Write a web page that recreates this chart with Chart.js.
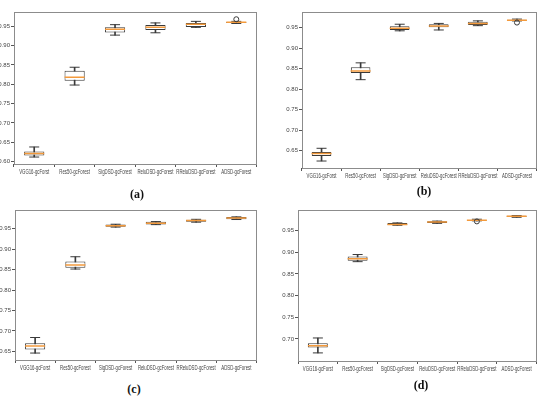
<!DOCTYPE html>
<html>
<head>
<meta charset="utf-8">
<script src="https://cdn.jsdelivr.net/npm/chart.js@4.4.1/dist/chart.umd.min.js"></script>
<style>
  body { margin: 0; background: #fff; width: 550px; height: 397px; position: relative; overflow: hidden; }
  canvas { position: absolute; }
  .lbl { position: absolute; font: bold 12px 'Liberation Serif', serif; color: #111; transform: translate(-50%, -50%); }
</style>
</head>
<body>
<canvas id="ca" width="268" height="182" style="left:0;top:0"></canvas>
<canvas id="cb" width="272" height="185" style="left:276px;top:0"></canvas>
<canvas id="cc" width="268" height="180" style="left:0;top:198px"></canvas>
<canvas id="cd" width="272" height="180" style="left:276px;top:198px"></canvas>
<div class="lbl" style="left:137px;top:194px">(a)</div>
<div class="lbl" style="left:424px;top:191px">(b)</div>
<div class="lbl" style="left:134px;top:389px">(c)</div>
<div class="lbl" style="left:421px;top:385px">(d)</div>
<script>
const categories = ['VGG16-gcForst', 'Res50-gcForest', 'SigDSD-gcForest', 'ReluDSD-gcForest', 'RReluDSD-gcForest', 'ADSD-gcForest'];

// (a)
const lowA  = [0.612, 0.798, 0.927, 0.933, 0.947, 0.957];
const q1A   = [0.616, 0.809, 0.934, 0.940, 0.948, 0.9585];
const medA  = [0.621, 0.818, 0.942, 0.9475, 0.955, 0.960];
const q3A   = [0.626, 0.835, 0.947, 0.953, 0.958, 0.961];
const highA = [0.638, 0.844, 0.954, 0.9585, 0.9625, 0.9625];
const fliersA = [{ x: 'ADSD-gcForest', y: 0.968 }];
const ticksA = [0.60, 0.65, 0.70, 0.75, 0.80, 0.85, 0.90, 0.95];

// (b)
const lowB  = [0.625, 0.823, 0.942, 0.944, 0.9545, 0.966];
const q1B   = [0.637, 0.839, 0.944, 0.9507, 0.956, 0.9675];
const medB  = [0.643, 0.844, 0.948, 0.9537, 0.960, 0.968];
const q3B   = [0.647, 0.853, 0.953, 0.958, 0.964, 0.969];
const highB = [0.656, 0.864, 0.958, 0.960, 0.9662, 0.9705];
const fliersB = [{ x: 'ADSD-gcForest', y: 0.962 }];
const ticksB = [0.65, 0.70, 0.75, 0.80, 0.85, 0.90, 0.95];

// (c)
const lowC  = [0.646, 0.8514, 0.954, 0.960, 0.966, 0.9725];
const q1C   = [0.6547, 0.8545, 0.955, 0.9605, 0.9668, 0.9732];
const medC  = [0.6635, 0.861, 0.9573, 0.9635, 0.970, 0.9763];
const q3C   = [0.6697, 0.8697, 0.9605, 0.9668, 0.9722, 0.9787];
const highC = [0.684, 0.8815, 0.961, 0.9675, 0.973, 0.979];
const fliersC = [];
const ticksC = [0.65, 0.70, 0.75, 0.80, 0.85, 0.90, 0.95];

// (d)
const lowD  = [0.6677, 0.8785, 0.9625, 0.967, 0.9728, 0.981];
const q1D   = [0.680, 0.8807, 0.963, 0.9676, 0.9735, 0.9817];
const medD  = [0.6843, 0.885, 0.9646, 0.970, 0.974, 0.9833];
const q3D   = [0.690, 0.8906, 0.9676, 0.972, 0.9748, 0.9848];
const highD = [0.7022, 0.895, 0.968, 0.9722, 0.9765, 0.985];
const fliersD = [{ x: 'RReluDSD-gcForest', y: 0.9715 }];
const ticksD = [0.70, 0.75, 0.80, 0.85, 0.90, 0.95];

const lineCol = '#3a3a3a';
const medCol = '#f39a3c';
const textCol = '#444';
const tickFont = { family: "'Liberation Sans', sans-serif", size: 6 };

// plot frame (all four spines)
const frame = {
  id: 'frame',
  afterDatasetsDraw(chart) {
    const a = chart.chartArea, c = chart.ctx;
    c.save();
    c.strokeStyle = '#8c8c8c';
    c.lineWidth = 1;
    c.strokeRect(Math.round(a.left) + 0.5, Math.round(a.top) + 0.5, Math.round(a.right - a.left) - 1, Math.round(a.bottom - a.top) - 1);
    c.restore();
  }
};

// x labels, squeezed horizontally like the source figure
const narrowLabels = {
  id: 'narrowLabels',
  afterDraw(chart) {
    const x = chart.scales.x, c = chart.ctx;
    c.save();
    c.font = "6.5px 'Liberation Sans', sans-serif";
    c.fillStyle = textCol;
    c.textAlign = 'center';
    c.textBaseline = 'top';
    chart.data.labels.forEach((lab, i) => {
      c.save();
      c.translate(x.getPixelForTick(i), chart.chartArea.bottom + 5);
      c.scale(0.66, 1);
      c.fillText(lab, 0, 0);
      c.restore();
    });
    c.restore();
  }
};

function boxChart(id, low, q1, med, q3, high, fliers, yMin, yMax, yTicks, yWidth, xHeight, padTop, padRight) {
  new Chart(document.getElementById(id), {
    type: 'bar',
    data: {
      labels: categories,
      datasets: [
        { type: 'line', data: fliers, showLine: false, pointStyle: 'circle', pointRadius: 2.5,
          pointBackgroundColor: 'rgba(0,0,0,0)', pointBorderColor: lineCol, pointBorderWidth: 1, order: 0 },
        { type: 'line', data: med, showLine: false, pointStyle: 'line', pointRadius: 10,
          pointBorderColor: medCol, pointBorderWidth: 1.5, order: 1 },
        { type: 'line', data: low, showLine: false, pointStyle: 'line', pointRadius: 5,
          pointBorderColor: lineCol, pointBorderWidth: 1, order: 2 },
        { type: 'line', data: high, showLine: false, pointStyle: 'line', pointRadius: 5,
          pointBorderColor: lineCol, pointBorderWidth: 1, order: 2 },
        { data: q1.map((v, i) => [v, q3[i]]), backgroundColor: '#fff', borderColor: lineCol, borderWidth: 1,
          borderSkipped: false, grouped: false, barPercentage: 0.5, categoryPercentage: 1, order: 3 },
        { data: low.map((v, i) => [v, high[i]]), backgroundColor: lineCol, borderWidth: 0,
          grouped: false, barThickness: 1, order: 4 }
      ]
    },
    options: {
      responsive: false,
      animation: false,
      events: [],
      layout: { padding: { top: padTop, right: padRight, left: 0, bottom: 0 } },
      plugins: { legend: { display: false }, tooltip: { enabled: false } },
      scales: {
        x: {
          grid: { display: true, drawOnChartArea: false, drawTicks: true, tickLength: 3, color: '#555' },
          border: { display: false },
          ticks: { display: false },
          afterFit(s) { s.height = xHeight; }
        },
        y: {
          min: yMin, max: yMax,
          grid: { display: true, drawOnChartArea: false, drawTicks: true, tickLength: 3, color: '#555' },
          border: { display: false },
          ticks: { font: tickFont, color: textCol, padding: 1, callback: v => v.toFixed(2) },
          afterBuildTicks(s) { s.ticks = yTicks.map(v => ({ value: v })); },
          afterFit(s) { s.width = yWidth; }
        }
      }
    },
    plugins: [frame, narrowLabels]
  });
}

boxChart('ca', lowA, q1A, medA, q3A, highA, fliersA, 0.594, 0.988, ticksA, 14, 18, 7, 2);
boxChart('cb', lowB, q1B, medB, q3B, highB, fliersB, 0.608, 0.989, ticksB, 26, 17, 6, 4);
boxChart('cc', lowC, q1C, medC, q3C, highC, fliersC, 0.629, 0.997, ticksC, 15, 18, 6, 4);
boxChart('cd', lowD, q1D, medD, q3D, highD, fliersD, 0.649, 0.999, ticksD, 22, 17, 7, 4);
</script>
</body>
</html>
